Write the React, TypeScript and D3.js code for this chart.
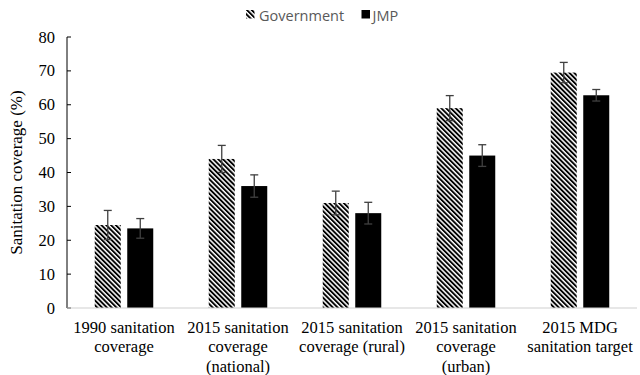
import React from "react";
import * as d3 from "d3";

const categories: string[][] = [
  ["1990 sanitation", "coverage"],
  ["2015 sanitation", "coverage", "(national)"],
  ["2015 sanitation", "coverage (rural)"],
  ["2015 sanitation", "coverage", "(urban)"],
  ["2015 MDG", "sanitation target"],
];
const seriesNames = ["Government", "JMP"];
const governmentValues = [24.5, 44, 31, 59, 69.5];
const governmentErrors = [4.3, 4, 3.5, 3.7, 3];
const jmpValues = [23.5, 36, 28, 45, 62.8];
const jmpErrors = [2.9, 3.3, 3.2, 3.2, 1.7];
const yTicks = [0, 10, 20, 30, 40, 50, 60, 70, 80];

const W = 640;
const H = 375;
const margin = { left: 67, right: 3, top: 37, bottom: 67 };

export default function App() {
  const x = d3
    .scaleBand<number>()
    .domain(categories.map((_, i) => i))
    .range([margin.left, W - margin.right]);
  const y = d3.scaleLinear().domain([0, 80]).range([H - margin.bottom, margin.top]);
  const barW = 26;
  const gap = 6.5;
  const series = [
    { name: seriesNames[0], values: governmentValues, errors: governmentErrors, fill: "url(#hatch)", offset: -(gap / 2 + barW) },
    { name: seriesNames[1], values: jmpValues, errors: jmpErrors, fill: "#000", offset: gap / 2 },
  ];
  const serif = "'Liberation Serif', 'Times New Roman', serif";
  const sans = "'Open Sans', 'Liberation Sans', sans-serif";

  return (
    <svg width={W} height={H} style={{ position: "absolute", left: 0, top: 0, background: "#fff" }}>
      <defs>
        <pattern id="hatch" patternUnits="userSpaceOnUse" width={3.4} height={3.4} patternTransform="rotate(-45)">
          <rect width={3.4} height={3.4} fill="#fff" />
          <rect width={1.9} height={3.4} fill="#000" />
        </pattern>
      </defs>

      {/* legend */}
      <g fontFamily={sans} fontSize={14.5} fill="#595959">
        <rect x={246} y={10} width={8.5} height={8.5} fill="url(#hatch)" />
        <text x={259} y={21}>{seriesNames[0]}</text>
        <rect x={361.5} y={10} width={8.5} height={8.5} fill="#000" />
        <text x={372.5} y={21}>{seriesNames[1]}</text>
      </g>

      {/* bars */}
      {series.map((s) =>
        s.values.map((v, i) => {
          const cx = (x(i) as number) + x.bandwidth() / 2;
          return (
            <rect key={s.name + i} x={cx + s.offset} y={y(v)} width={barW} height={y(0) - y(v)} fill={s.fill} />
          );
        })
      )}

      {/* error bars */}
      {series.map((s) =>
        s.values.map((v, i) => {
          const cx = (x(i) as number) + x.bandwidth() / 2 + s.offset + barW / 2;
          const t = y(v + s.errors[i]);
          const b = y(v - s.errors[i]);
          return (
            <g key={"e" + s.name + i} stroke="#404040" strokeWidth={1.3}>
              <line x1={cx} x2={cx} y1={t} y2={b} />
              <line x1={cx - 4} x2={cx + 4} y1={t} y2={t} />
              <line x1={cx - 4} x2={cx + 4} y1={b} y2={b} />
            </g>
          );
        })
      )}

      {/* y axis */}
      <g stroke="#000" strokeWidth={1}>
        <line x1={margin.left} x2={margin.left} y1={y(80)} y2={y(0)} />
        {yTicks.map((t) => (
          <line key={t} x1={margin.left} x2={margin.left + 4} y1={y(t)} y2={y(t)} />
        ))}
      </g>
      <line x1={margin.left} x2={W - margin.right} y1={y(0)} y2={y(0)} stroke="#d0d0d0" strokeWidth={1.2} />
      <g fontFamily={serif} fontSize={16.5} fill="#000" textAnchor="end">
        {yTicks.map((t) => (
          <text key={t} x={55} y={y(t) + 5.5}>{t}</text>
        ))}
      </g>
      <text
        transform={`translate(22, ${(y(0) + y(80)) / 2}) rotate(-90)`}
        textAnchor="middle"
        fontFamily={serif}
        fontSize={17}
      >
        Sanitation coverage (%)
      </text>

      {/* category labels */}
      <g fontFamily={serif} fontSize={16.5} textAnchor="middle">
        {categories.map((lines, i) => (
          <text key={i} x={(x(i) as number) + x.bandwidth() / 2} y={333}>
            {lines.map((l, j) => (
              <tspan key={j} x={(x(i) as number) + x.bandwidth() / 2} dy={j === 0 ? 0 : 19.3}>
                {l}
              </tspan>
            ))}
          </text>
        ))}
      </g>
    </svg>
  );
}
